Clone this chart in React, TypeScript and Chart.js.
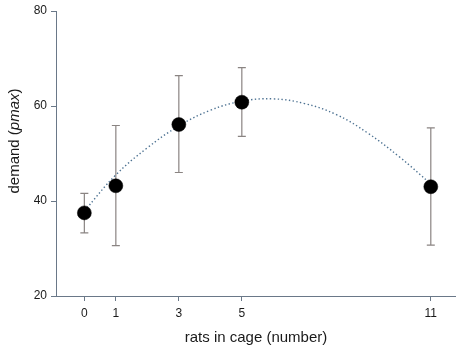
import React, { useEffect, useRef } from "react";
import { Chart, registerables } from "chart.js";

Chart.register(...registerables);

const xTicks = [0, 1, 3, 5, 11];
const yTicks = [20, 40, 60, 80];
const ratsInCage = [0, 1, 3, 5, 11];
const demandMean = [37.5, 43.2, 56.1, 60.8, 43.0];
const demandLow = [33.3, 30.6, 46.0, 53.6, 30.7];
const demandHigh = [41.6, 55.9, 66.4, 68.1, 55.4];
const fitX = [0, 1, 2, 3, 4, 5, 6, 7, 8, 9, 10, 11];
const fitY = [37.9, 45.5, 51.2, 55.8, 59.1, 61.0, 61.5, 60.5, 58.2, 54.3, 49.3, 43.6];

const axisColor = "#6a7888";
const textColor = "#1a1a1a";
const errColor = "#8a8482";
const fitColor = "#4d7292";
const fontFamily = "'Liberation Sans', Arial, sans-serif";

const errorBarPlugin = {
  id: "errorBars",
  beforeDatasetsDraw(chart: any) {
    const ctx = chart.ctx;
    const xs = chart.scales.x;
    const ys = chart.scales.y;
    ctx.save();
    ctx.strokeStyle = errColor;
    ctx.lineWidth = 1.2;
    for (let i = 0; i < ratsInCage.length; i++) {
      const x = xs.getPixelForValue(ratsInCage[i]);
      const yl = ys.getPixelForValue(demandLow[i]);
      const yh = ys.getPixelForValue(demandHigh[i]);
      ctx.beginPath();
      ctx.moveTo(x, yl);
      ctx.lineTo(x, yh);
      ctx.moveTo(x - 4, yl);
      ctx.lineTo(x + 4, yl);
      ctx.moveTo(x - 4, yh);
      ctx.lineTo(x + 4, yh);
      ctx.stroke();
    }
    ctx.restore();
  },
};

const yTitlePlugin = {
  id: "yTitle",
  afterDraw(chart: any) {
    const ctx = chart.ctx;
    const parts = [
      { t: "demand (", f: `15px ${fontFamily}` },
      { t: "pmax", f: `italic 15px ${fontFamily}` },
      { t: ")", f: `15px ${fontFamily}` },
    ];
    ctx.save();
    let total = 0;
    const widths: number[] = [];
    for (const p of parts) {
      ctx.font = p.f;
      const w = ctx.measureText(p.t).width;
      widths.push(w);
      total += w;
    }
    ctx.translate(15, 141);
    ctx.rotate(-Math.PI / 2);
    ctx.fillStyle = textColor;
    ctx.textBaseline = "middle";
    ctx.textAlign = "left";
    let x = -total / 2;
    parts.forEach((p, i) => {
      ctx.font = p.f;
      ctx.fillText(p.t, x, 0);
      x += widths[i];
    });
    ctx.restore();
  },
};

export default function App() {
  const ref = useRef<HTMLCanvasElement>(null);
  useEffect(() => {
    document.body.style.margin = "0";
    const canvas = ref.current;
    if (!canvas) return;
    const chart = new Chart(canvas, {
      type: "scatter",
      data: {
        datasets: [
          {
            label: "mean",
            data: ratsInCage.map((x, i) => ({ x, y: demandMean[i] })),
            pointRadius: 7,
            pointHoverRadius: 7,
            backgroundColor: "#000",
            borderColor: "#000",
            borderWidth: 0.5,
            showLine: false,
          },
          {
            label: "fit",
            data: fitX.map((x, i) => ({ x, y: fitY[i] })),
            showLine: true,
            pointRadius: 0,
            borderColor: fitColor,
            borderWidth: 1.4,
            borderDash: [1.4, 2.4],
            tension: 0.4,
            fill: false,
          },
        ],
      },
      options: {
        animation: false,
        responsive: false,
        maintainAspectRatio: false,
        layout: { autoPadding: false, padding: { top: 11, right: 0, left: 0, bottom: 0 } },
        plugins: { legend: { display: false }, tooltip: { enabled: false } },
        scales: {
          x: {
            type: "linear",
            min: -0.9,
            max: 11.8,
            afterBuildTicks: (s: any) => {
              s.ticks = xTicks.map((v) => ({ value: v }));
            },
            afterFit: (s: any) => {
              s.height = 53;
              s.paddingLeft = 0;
              s.paddingRight = 0;
            },
            grid: {
              display: true,
              drawOnChartArea: false,
              drawTicks: true,
              tickLength: 5,
              color: axisColor,
            },
            border: { display: true, color: axisColor, width: 1 },
            ticks: {
              autoSkip: false,
              maxRotation: 0,
              padding: 5,
              color: textColor,
              font: { family: fontFamily, size: 12 },
            },
            title: {
              display: true,
              text: "rats in cage (number)",
              color: textColor,
              font: { family: fontFamily, size: 15 },
              padding: { top: 0, bottom: 2 },
            },
          },
          y: {
            type: "linear",
            min: 20,
            max: 80,
            afterBuildTicks: (s: any) => {
              s.ticks = yTicks.map((v) => ({ value: v }));
            },
            afterFit: (s: any) => {
              s.width = 56;
              s.paddingTop = 0;
              s.paddingBottom = 0;
            },
            grid: {
              display: true,
              drawOnChartArea: false,
              drawTicks: true,
              tickLength: 5,
              color: axisColor,
            },
            border: { display: true, color: axisColor, width: 1 },
            ticks: {
              padding: 4,
              color: textColor,
              font: { family: fontFamily, size: 12 },
            },
            title: { display: false },
          },
        },
      },
      plugins: [errorBarPlugin, yTitlePlugin],
    } as any);
    return () => chart.destroy();
  }, []);
  return (
    <canvas
      ref={ref}
      width={456}
      height={349}
      style={{ display: "block", width: 456, height: 349 }}
    />
  );
}
